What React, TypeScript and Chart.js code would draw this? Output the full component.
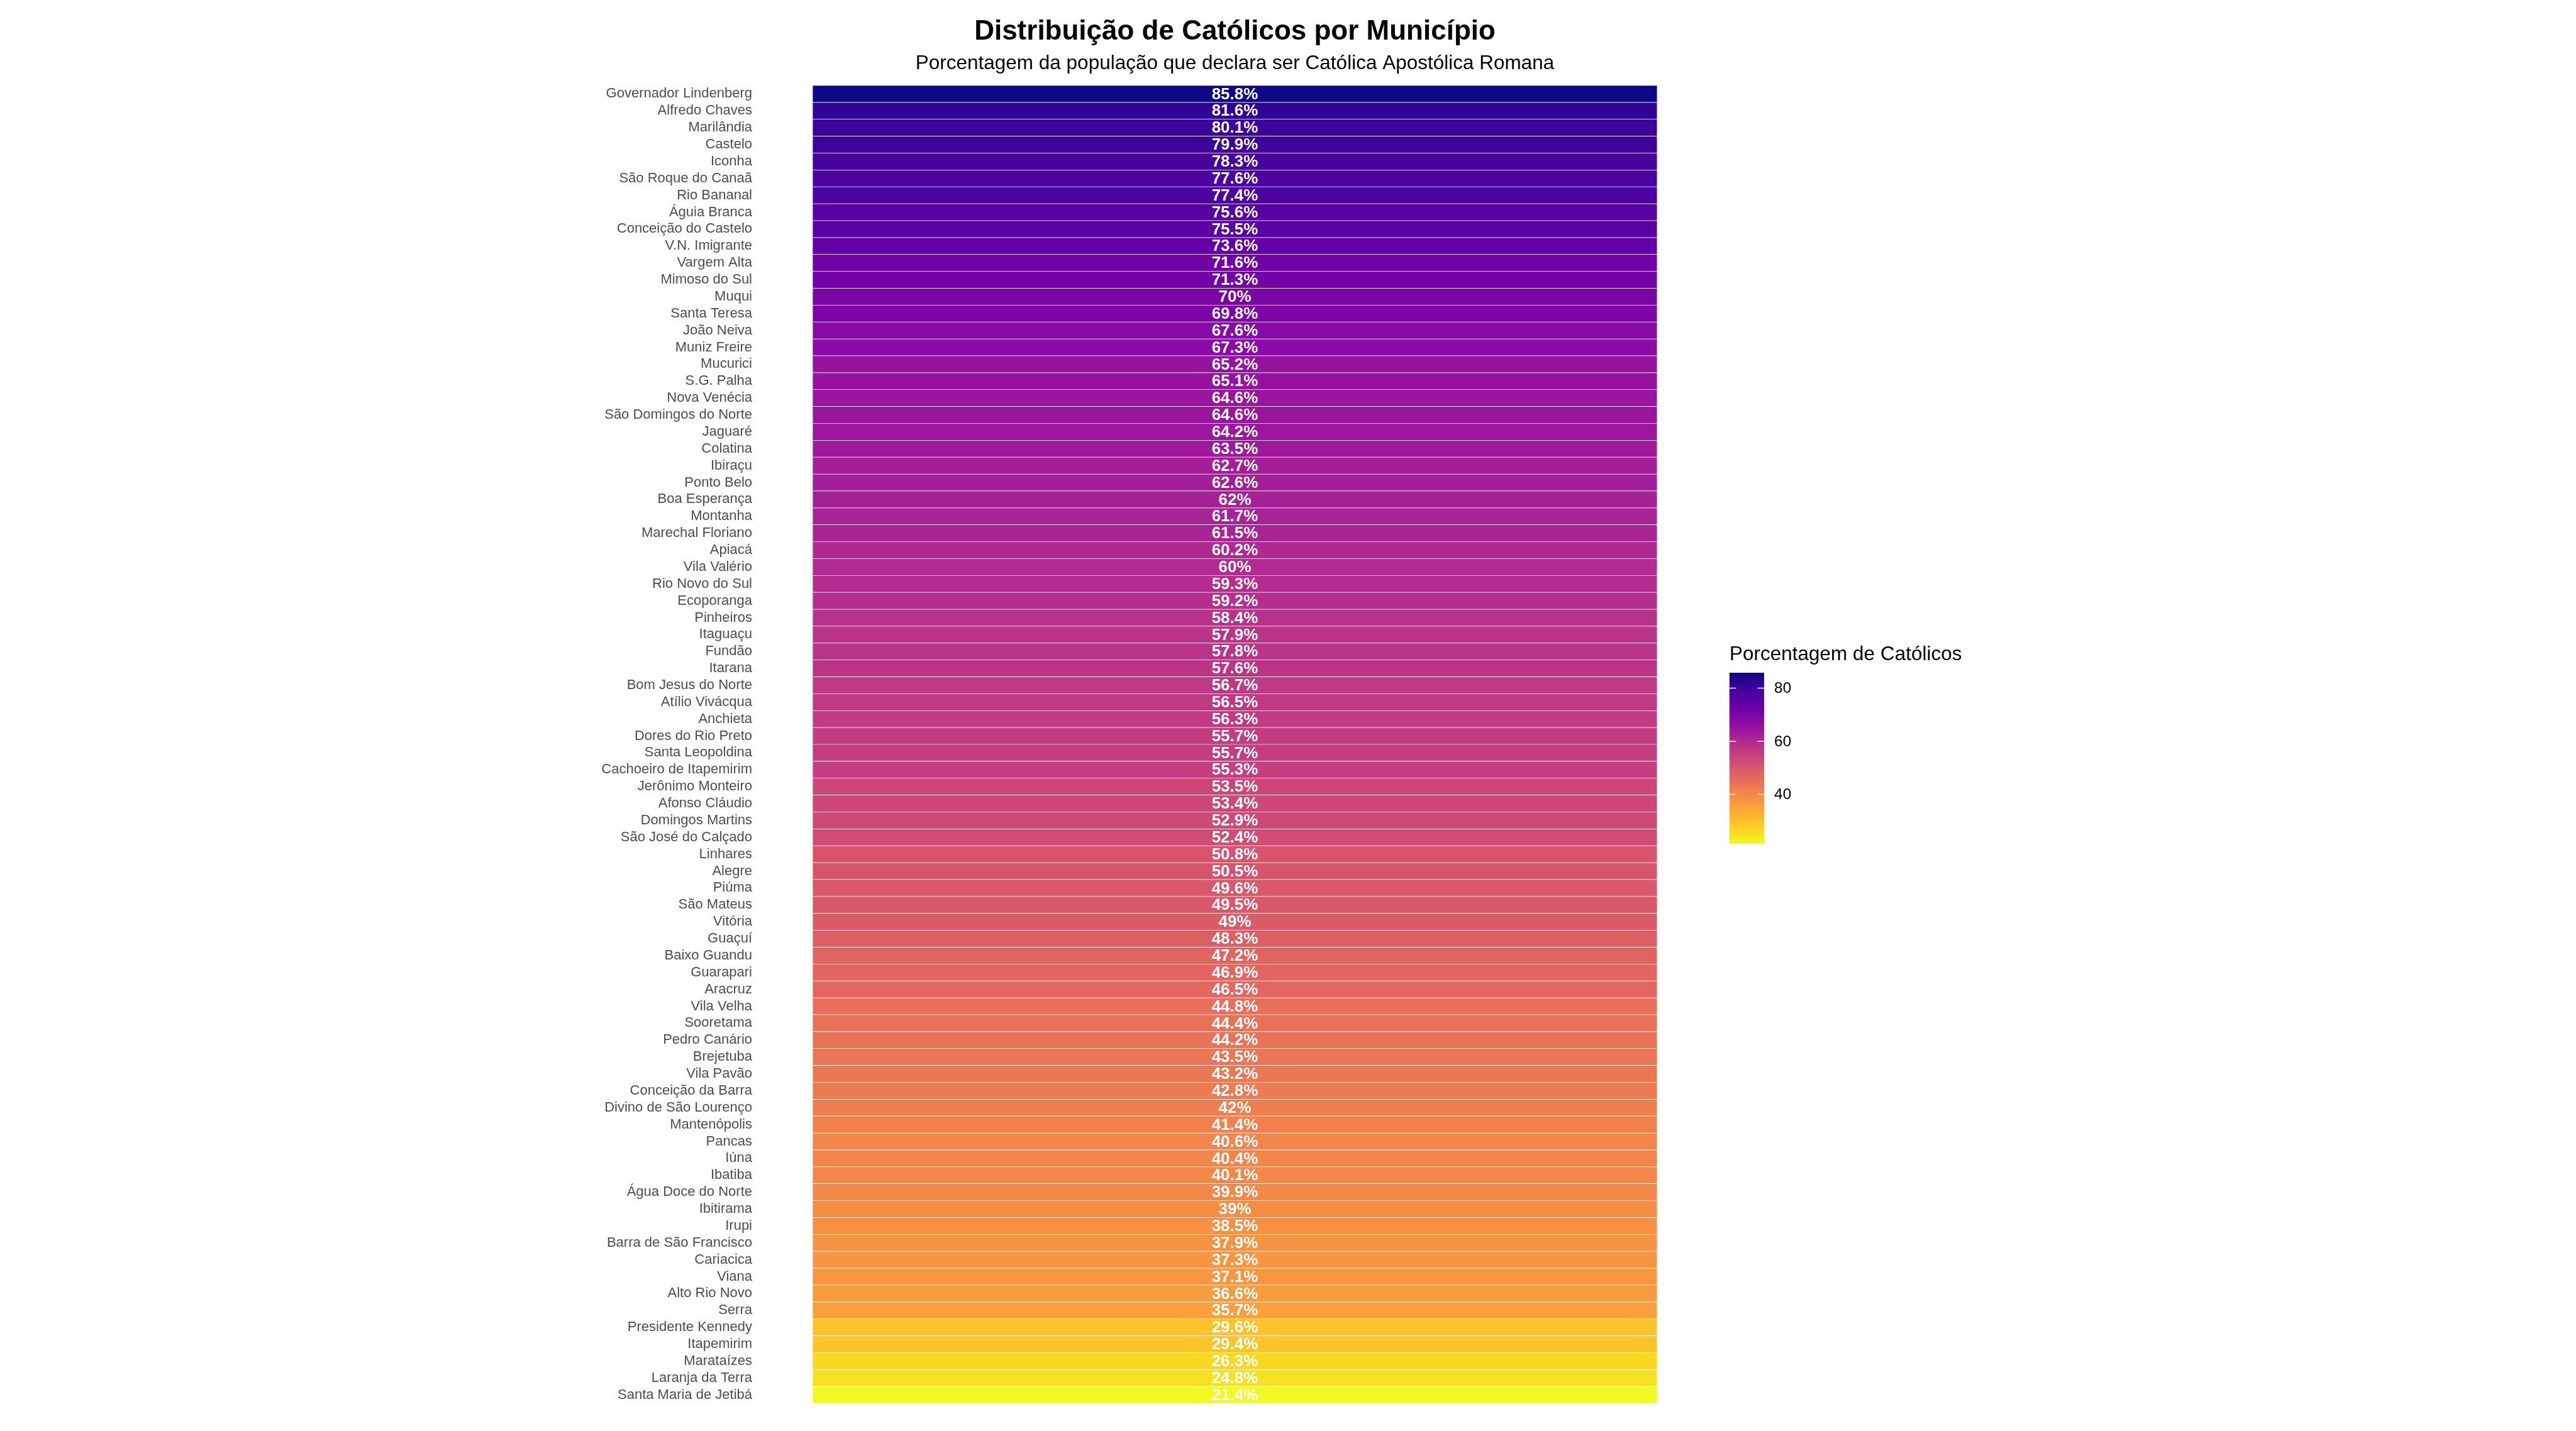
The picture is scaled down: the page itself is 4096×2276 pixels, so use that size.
import React, { useEffect, useRef } from "react";
import { Chart, registerables } from "chart.js";

Chart.register(...registerables);

const municipios = [
  "Governador Lindenberg", "Alfredo Chaves", "Marilândia", "Castelo", "Iconha",
  "São Roque do Canaã", "Rio Bananal", "Águia Branca", "Conceição do Castelo", "V.N. Imigrante",
  "Vargem Alta", "Mimoso do Sul", "Muqui", "Santa Teresa", "João Neiva",
  "Muniz Freire", "Mucurici", "S.G. Palha", "Nova Venécia", "São Domingos do Norte",
  "Jaguaré", "Colatina", "Ibiraçu", "Ponto Belo", "Boa Esperança",
  "Montanha", "Marechal Floriano", "Apiacá", "Vila Valério", "Rio Novo do Sul",
  "Ecoporanga", "Pinheiros", "Itaguaçu", "Fundão", "Itarana",
  "Bom Jesus do Norte", "Atílio Vivácqua", "Anchieta", "Dores do Rio Preto", "Santa Leopoldina",
  "Cachoeiro de Itapemirim", "Jerônimo Monteiro", "Afonso Cláudio", "Domingos Martins", "São José do Calçado",
  "Linhares", "Alegre", "Piúma", "São Mateus", "Vitória",
  "Guaçuí", "Baixo Guandu", "Guarapari", "Aracruz", "Vila Velha",
  "Sooretama", "Pedro Canário", "Brejetuba", "Vila Pavão", "Conceição da Barra",
  "Divino de São Lourenço", "Mantenópolis", "Pancas", "Iúna", "Ibatiba",
  "Água Doce do Norte", "Ibitirama", "Irupi", "Barra de São Francisco", "Cariacica",
  "Viana", "Alto Rio Novo", "Serra", "Presidente Kennedy", "Itapemirim",
  "Marataízes", "Laranja da Terra", "Santa Maria de Jetibá",
];

const catolicos = [
  85.8, 81.6, 80.1, 79.9, 78.3,
  77.6, 77.4, 75.6, 75.5, 73.6,
  71.6, 71.3, 70, 69.8, 67.6,
  67.3, 65.2, 65.1, 64.6, 64.6,
  64.2, 63.5, 62.7, 62.6, 62,
  61.7, 61.5, 60.2, 60, 59.3,
  59.2, 58.4, 57.9, 57.8, 57.6,
  56.7, 56.5, 56.3, 55.7, 55.7,
  55.3, 53.5, 53.4, 52.9, 52.4,
  50.8, 50.5, 49.6, 49.5, 49,
  48.3, 47.2, 46.9, 46.5, 44.8,
  44.4, 44.2, 43.5, 43.2, 42.8,
  42, 41.4, 40.6, 40.4, 40.1,
  39.9, 39, 38.5, 37.9, 37.3,
  37.1, 36.6, 35.7, 29.6, 29.4,
  26.3, 24.8, 21.4,
];

const legendTicks = [40, 60, 80];

const TITLE = "Distribuição de Católicos por Município";
const SUBTITLE = "Porcentagem da população que declara ser Católica Apostólica Romana";
const LEGEND_TITLE = "Porcentagem de Católicos";

const TILE_SPAN = 1;

const PLASMA = [
  "#0d0887", "#41049d", "#6a00a8", "#8f0da4", "#b12a90",
  "#cc4778", "#e16462", "#f2844b", "#fca636", "#fcce25", "#f0f921",
];

const FONT = '"Liberation Sans", Arial, Helvetica, sans-serif';

function hexToRgb(h: string) {
  const n = parseInt(h.slice(1), 16);
  return [(n >> 16) & 255, (n >> 8) & 255, n & 255];
}

function plasma(t: number) {
  const c = Math.max(0, Math.min(1, t)) * (PLASMA.length - 1);
  const i = Math.min(Math.floor(c), PLASMA.length - 2);
  const f = c - i;
  const a = hexToRgb(PLASMA[i]);
  const b = hexToRgb(PLASMA[i + 1]);
  const r = a.map((v, k) => Math.round(v + (b[k] - v) * f));
  return `rgb(${r[0]},${r[1]},${r[2]})`;
}

const vMin = Math.min(...catolicos);
const vMax = Math.max(...catolicos);
const colorFor = (v: number) => plasma((vMax - v) / (vMax - vMin));

const W = 4096;
const H = 2276;

const overlayPlugin = {
  id: "overlay",
  afterDatasetsDraw(chart: any) {
    const ctx = chart.ctx;
    const meta = chart.getDatasetMeta(0);
    const xs = chart.scales.x;
    const cx = xs.getPixelForValue(TILE_SPAN / 2);
    ctx.save();
    ctx.fillStyle = "#ffffff";
    ctx.font = `bold 26px ${FONT}`;
    ctx.textAlign = "center";
    ctx.textBaseline = "middle";
    meta.data.forEach((bar: any, i: number) => {
      ctx.fillText(`${catolicos[i]}%`, cx, bar.y + 1);
    });
    ctx.restore();
  },
  afterDraw(chart: any) {
    const ctx = chart.ctx;
    const area = chart.chartArea;
    const cx = (area.left + area.right) / 2;
    ctx.save();
    // title
    ctx.fillStyle = "#000000";
    ctx.textAlign = "center";
    ctx.textBaseline = "alphabetic";
    ctx.font = `bold 44px ${FONT}`;
    ctx.fillText(TITLE, cx, 63);
    ctx.font = `31.5px ${FONT}`;
    ctx.fillText(SUBTITLE, cx, 110);

    // legend
    const lx = area.right + 115;
    const barTop = 1070;
    const barH = 272;
    const barW = 55;
    ctx.textAlign = "left";
    ctx.font = `31.5px ${FONT}`;
    ctx.fillText(LEGEND_TITLE, lx, 1050);

    const grad = ctx.createLinearGradient(0, barTop, 0, barTop + barH);
    PLASMA.forEach((c, i) => grad.addColorStop(i / (PLASMA.length - 1), c));
    ctx.fillStyle = grad;
    ctx.fillRect(lx, barTop, barW, barH);

    ctx.font = `24.5px ${FONT}`;
    ctx.textBaseline = "middle";
    legendTicks.forEach((t) => {
      const y = barTop + ((vMax - t) / (vMax - vMin)) * barH;
      ctx.strokeStyle = "rgba(255,255,255,0.9)";
      ctx.lineWidth = 1.5;
      ctx.beginPath();
      ctx.moveTo(lx, y);
      ctx.lineTo(lx + 10.6, y);
      ctx.moveTo(lx + barW - 10.6, y);
      ctx.lineTo(lx + barW, y);
      ctx.stroke();
      ctx.fillStyle = "#000000";
      ctx.fillText(String(t), lx + barW + 16, y + 1);
    });
    ctx.restore();
  },
};

export default function App() {
  const ref = useRef<HTMLCanvasElement | null>(null);

  useEffect(() => {
    document.body.style.margin = "0";
    document.body.style.overflow = "hidden";
    const canvas = ref.current;
    if (!canvas) return;
    const chartLeft = 1292;
    const chartRight = 2635;
    const chart = new Chart(canvas, {
      type: "bar",
      data: {
        labels: municipios,
        datasets: [
          {
            data: municipios.map(() => TILE_SPAN),
            backgroundColor: catolicos.map(colorFor),
            borderColor: "#ffffff",
            borderWidth: 0.7,
            borderSkipped: false,
            categoryPercentage: 1,
            barPercentage: 1,
          },
        ],
      },
      options: {
        indexAxis: "y",
        animation: false,
        responsive: false,
        maintainAspectRatio: false,
        events: [],
        layout: {
          padding: { left: 0, right: W - chartRight, top: 136, bottom: 44 },
        },
        plugins: {
          legend: { display: false },
          tooltip: { enabled: false },
          title: { display: false },
        },
        scales: {
          x: {
            type: "linear",
            display: false,
            min: 0,
            max: TILE_SPAN,
          },
          y: {
            type: "category",
            grid: { display: false, drawTicks: false },
            border: { display: false },
            ticks: {
              autoSkip: false,
              padding: 96,
              color: "#4D4D4D",
              font: { family: FONT, size: 22 },
            },
            afterFit: (scale: any) => {
              scale.width = chartLeft;
              scale.paddingTop = 0;
              scale.paddingBottom = 0;
            },
          },
        },
      },
      plugins: [overlayPlugin],
    });
    return () => chart.destroy();
  }, []);

  return (
    <canvas
      ref={ref}
      width={W}
      height={H}
      style={{ display: "block", width: W + "px", height: H + "px" }}
    />
  );
}
